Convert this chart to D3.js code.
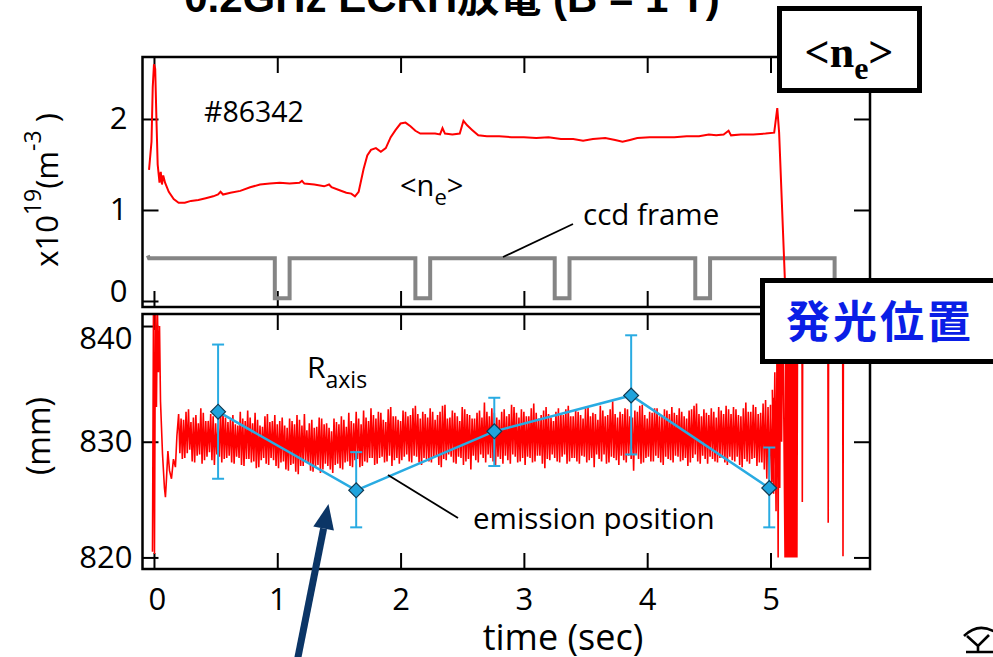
<!DOCTYPE html>
<html>
<head>
<meta charset="utf-8">
<script src="https://cdn.jsdelivr.net/npm/d3@7"></script>
<style>
  body { margin: 0; background: #fff; }
  svg { display: block; }
</style>
</head>
<body>
<div id="chart"></div>
<script>
// ---- data ----
// line-averaged density (x10^19 m^-3)
const neT = [-0.04, -0.02, -0.01, 0.00, 0.01, 0.02, 0.03, 0.045, 0.055, 0.065, 0.075, 0.09, 0.12, 0.16, 0.20, 0.25,
  0.30, 0.36, 0.42, 0.48, 0.52, 0.54, 0.56, 0.62, 0.70, 0.78, 0.86, 0.94, 1.02, 1.10, 1.18, 1.20, 1.22, 1.30, 1.38,
  1.42, 1.44, 1.50, 1.56, 1.60, 1.63, 1.66, 1.70, 1.73, 1.76, 1.80, 1.84, 1.88, 1.92, 1.96, 2.00, 2.04, 2.08, 2.12,
  2.16, 2.22, 2.28, 2.32, 2.34, 2.36, 2.42, 2.48, 2.51, 2.54, 2.58, 2.63, 2.70, 2.80, 2.90, 3.00, 3.10, 3.20, 3.30,
  3.40, 3.48, 3.56, 3.66, 3.74, 3.80, 3.86, 3.92, 4.02, 4.12, 4.22, 4.32, 4.42, 4.50, 4.56, 4.62, 4.66, 4.68, 4.76,
  4.86, 4.96, 5.03, 5.055, 5.07, 5.135];
const neV = [1.44, 1.75, 2.35, 2.60, 2.55, 2.00, 1.50, 1.30, 1.42, 1.28, 1.38, 1.30, 1.20, 1.12, 1.08, 1.08,
  1.10, 1.11, 1.13, 1.15, 1.17, 1.20, 1.17, 1.19, 1.21, 1.25, 1.28, 1.29, 1.30, 1.29, 1.30, 1.32, 1.29, 1.28, 1.26,
  1.28, 1.25, 1.22, 1.19, 1.18, 1.15, 1.20, 1.45, 1.60, 1.66, 1.68, 1.64, 1.68, 1.80, 1.88, 1.95, 1.96, 1.92, 1.87,
  1.84, 1.84, 1.84, 1.83, 1.90, 1.84, 1.83, 1.84, 1.98, 1.93, 1.88, 1.82, 1.81, 1.81, 1.80, 1.80, 1.79, 1.80, 1.78,
  1.78, 1.76, 1.78, 1.79, 1.77, 1.75, 1.77, 1.79, 1.80, 1.80, 1.80, 1.81, 1.81, 1.83, 1.82, 1.83, 1.87, 1.82, 1.83,
  1.83, 1.84, 1.85, 2.12, 1.85, -0.40];

// ccd frame gate signal
const ccdT = [-0.05, -0.04, 0.98, 0.98, 1.10, 1.10, 2.12, 2.12, 2.24, 2.24, 3.25, 3.25, 3.37, 3.37, 4.39, 4.39, 4.51, 4.51, 5.52, 5.52];
const ccdV = [0.50, 0.47, 0.47, 0.03, 0.03, 0.47, 0.47, 0.03, 0.03, 0.47, 0.47, 0.03, 0.03, 0.47, 0.47, 0.03, 0.03, 0.47, 0.47, 0.03];

// R_axis (mm): start-up transient
const rStartT = [-0.012, -0.004, 0.004, 0.012, 0.020, 0.028, 0.036, 0.045, 0.053, 0.069, 0.085, 0.093, 0.100, 0.113, 0.126, 0.142, 0.158, 0.174, 0.186];
const rStartV = [820.5, 841.5, 820.3, 841.5, 833.0, 841.5, 836.0, 840.0, 833.5, 829.0, 826.0, 825.2, 826.5, 829.2, 827.5, 826.8, 828.5, 827.8, 830.5];
// R_axis noisy flat-top, read every 0.04 s from 0.20 s to 5.00 s:
// upper / lower excursions at each sample, and a second upper / lower pair half a step later
const rBandStart = 0.20, rBandStep = 0.04;
const rHi = [832.4, 831.9, 832.8, 832.1, 831.6, 832.5, 831.8, 832.2, 831.5, 832.6,
  831.7, 832.3, 831.4, 832.0, 832.7, 831.6, 831.9, 831.3, 832.4, 831.8,
  831.5, 832.1, 831.2, 831.8, 832.3, 831.4, 831.0, 831.9, 831.3, 832.0,
  831.6, 830.9, 831.7, 832.2, 831.3, 831.8, 832.6, 831.5, 832.1, 832.9,
  832.0, 832.5, 831.7, 833.0, 832.2, 831.8, 832.6, 832.3, 833.1, 832.0,
  832.4, 832.9, 831.9, 832.6, 833.2, 832.1, 832.5, 831.8, 832.8, 832.3,
  832.0, 832.7, 833.4, 832.2, 832.5, 831.9, 832.8, 832.4, 833.0, 832.1,
  832.6, 832.2, 833.3, 832.0, 832.7, 832.4, 831.8, 832.9, 832.3, 833.1,
  832.2, 832.6, 832.0, 833.0, 832.5, 831.9, 832.7, 832.3, 833.5, 832.1,
  832.4, 832.8, 832.1, 832.6, 833.2, 832.0, 832.5, 832.9, 832.2, 832.7,
  833.0, 832.3, 832.6, 832.0, 832.8, 833.3, 832.2, 832.5, 832.9, 832.1,
  832.7, 833.1, 832.4, 832.8, 832.2, 833.4, 832.6, 833.0, 832.5, 833.6,
  833.2];
const rLo = [829.0, 828.6, 829.3, 828.2, 828.9, 828.4, 829.1, 828.0, 828.7, 828.5,
  828.8, 828.1, 828.6, 827.9, 828.5, 828.3, 827.8, 828.6, 828.0, 828.4,
  827.7, 828.3, 827.5, 828.1, 827.2, 827.9, 828.2, 827.4, 828.0, 827.6,
  827.9, 827.3, 828.1, 827.6, 828.3, 827.8, 828.5, 827.9, 828.2, 828.6,
  828.1, 828.7, 828.3, 827.9, 828.6, 828.4, 828.9, 828.2, 828.7, 828.0,
  828.5, 828.2, 828.8, 827.8, 828.4, 828.7, 828.1, 828.6, 828.3, 827.6,
  828.4, 828.9, 828.2, 828.6, 827.9, 828.5, 828.8, 828.1, 828.7, 828.3,
  828.0, 828.6, 828.3, 828.8, 827.7, 828.4, 828.6, 828.2, 828.9, 828.3,
  828.6, 828.1, 828.7, 828.4, 827.8, 828.5, 828.9, 828.2, 828.6, 828.0,
  828.4, 828.8, 827.5, 828.5, 828.2, 828.7, 828.3, 828.6, 828.0, 828.5,
  828.2, 828.7, 828.4, 827.9, 828.6, 828.3, 828.8, 828.1, 828.5, 828.2,
  828.6, 828.0, 828.4, 828.7, 827.8, 828.3, 828.5, 827.9, 828.2, 826.8,
  826.5];
const rHi2 = [832.0, 832.6, 831.7, 832.3, 832.9, 831.8, 832.4, 831.6, 832.7, 832.1,
  831.9, 831.5, 832.6, 831.8, 832.1, 832.5, 831.4, 832.2, 831.7, 832.3,
  831.8, 831.4, 832.0, 831.5, 831.9, 832.4, 831.6, 831.2, 832.1, 831.5,
  831.2, 832.0, 831.5, 831.9, 832.5, 831.6, 832.0, 832.7, 831.8, 832.3,
  832.6, 831.9, 832.8, 832.2, 831.9, 832.7, 832.2, 832.9, 832.4, 832.6,
  832.1, 832.6, 832.3, 833.1, 832.0, 832.7, 832.2, 833.0, 832.4, 832.0,
  832.5, 832.1, 832.6, 832.9, 832.1, 832.6, 832.2, 833.2, 832.5, 832.8,
  832.2, 832.9, 832.5, 832.3, 833.0, 832.1, 832.6, 832.4, 832.8, 832.2,
  832.7, 832.3, 832.9, 832.2, 832.4, 833.1, 832.2, 832.8, 832.4, 832.6,
  832.9, 832.2, 832.7, 833.1, 832.3, 832.6, 832.9, 832.2, 832.8, 832.4,
  832.5, 832.9, 832.2, 832.7, 833.1, 832.4, 832.8, 832.3, 832.6, 833.0,
  832.4, 832.8, 833.0, 832.3, 832.9, 832.6, 833.2, 832.4, 833.3, 833.0,
  833.8];
const rLo2 = [828.5, 829.0, 828.3, 828.8, 828.1, 828.7, 828.4, 828.9, 828.2, 828.6,
  828.2, 828.7, 828.0, 828.5, 828.2, 827.7, 828.4, 828.1, 828.6, 827.9,
  828.2, 827.6, 828.0, 827.4, 827.9, 828.3, 827.5, 827.8, 827.3, 828.1,
  827.6, 828.0, 827.7, 828.2, 827.9, 828.4, 827.8, 828.3, 828.6, 828.0,
  828.6, 828.2, 828.8, 828.4, 828.1, 828.7, 828.3, 828.8, 828.2, 828.6,
  828.3, 828.7, 828.0, 828.5, 828.9, 828.2, 828.7, 828.0, 828.5, 828.8,
  828.2, 828.6, 828.9, 828.3, 828.7, 828.1, 828.4, 828.9, 828.2, 828.6,
  828.7, 828.2, 828.8, 828.1, 828.5, 828.9, 828.3, 828.7, 828.1, 828.6,
  828.3, 828.8, 828.2, 828.6, 828.9, 828.3, 828.1, 828.7, 828.4, 828.8,
  828.2, 828.5, 828.9, 828.1, 828.6, 828.3, 828.8, 828.2, 828.7, 828.4,
  828.8, 828.3, 828.6, 828.2, 828.9, 828.1, 828.5, 828.7, 828.3, 828.6,
  828.2, 828.7, 828.3, 828.0, 828.5, 828.1, 828.6, 828.2, 827.6, 826.5,
  825.8];
// R_axis after the discharge ends (lost equilibrium)
const rEndT = [5.015, 5.025, 5.035, 5.045, 5.055, 5.062, 5.068, 5.075, 5.082, 5.09, 5.10,
  5.118, 5.124, 5.130, 5.136, 5.142, 5.148, 5.154, 5.160, 5.166, 5.172, 5.178, 5.184, 5.190, 5.196, 5.202, 5.208, 5.214, 5.220,
  5.255, 5.258, 5.262, 5.465, 5.468, 5.472, 5.585, 5.588, 5.592, 5.65];
const rEndV = [834.5, 825.5, 836.0, 824.0, 845, 820.0, 845, 826.0, 845, 830.0, 845,
  820.0, 845, 820.0, 845, 820.0, 845, 820.0, 845, 820.0, 845, 820.0, 845, 820.0, 845, 820.0, 845, 820.0, 845,
  845, 824.8, 845, 845, 823.0, 845, 845, 820.1, 845, 845];

// emission position from the ccd frames
const emT = [0.52, 1.64, 2.76, 3.87, 4.99];
const emV = [832.6, 825.8, 830.9, 834.0, 826.0];
const emLo = [826.8, 822.6, 827.9, 828.9, 822.6];
const emHi = [838.4, 829.1, 833.8, 839.2, 829.5];

const timeTicks = [0, 1, 2, 3, 4, 5];
const neTicks = [0, 1, 2];
const rTicks = [820, 830, 840];

// ---- drawing ----
const W = 993, H = 657;
const svg = d3.select("#chart").append("svg")
  .attr("width", W).attr("height", H)
  .style("font-family", "'Open Sans', 'Noto Sans', sans-serif");

const x = d3.scaleLinear().domain([-0.093, 5.807]).range([142.5, 870]);
const yTop = d3.scaleLinear().domain([-0.066, 2.681]).range([307, 57]);
const yBot = d3.scaleLinear().domain([819.0, 841.04]).range([569, 314]);

const tick = 16;

// clip areas
const defs = svg.append("defs");
defs.append("clipPath").attr("id", "clipTop").append("rect")
  .attr("x", 142.5).attr("y", 57).attr("width", 870 - 142.5).attr("height", 307 - 57);
defs.append("clipPath").attr("id", "clipBot").append("rect")
  .attr("x", 142.5).attr("y", 314).attr("width", 870 - 142.5).attr("height", 569 - 314);

// title (cut off at the top edge of the slide)
const title = svg.append("text")
  .attr("x", 452).attr("y", 12)
  .attr("text-anchor", "middle")
  .style("font-family", "'Liberation Sans', 'Noto Sans CJK JP', sans-serif")
  .style("font-weight", "bold").style("font-size", "42px");
title.append("tspan").text("0.2GHz ECRH");
title.append("tspan").style("font-family", "'Noto Sans CJK JP'").text("放電");
title.append("tspan").text(" (B = 1 T)");

function styleAxis(g, labels) {
  g.select(".domain").remove();
  g.selectAll(".tick line").attr("stroke", "#000").attr("stroke-width", 2);
  if (!labels) g.selectAll(".tick text").remove();
  else g.selectAll(".tick text").attr("fill", "#000").style("font-size", "31px")
    .style("font-family", "'Open Sans', sans-serif");
}

// ---------- top panel ----------
const topG = svg.append("g");
topG.append("g").attr("transform", "translate(142.5,0)")
  .call(d3.axisLeft(yTop).tickValues(neTicks).tickSize(-tick).tickPadding(15).tickFormat(d3.format("d")))
  .call(g => styleAxis(g, true))
  .call(g => g.selectAll(".tick text").filter(d => d === 0).attr("dy", "0.32em").attr("y", -9));
topG.append("g").attr("transform", "translate(870,0)")
  .call(d3.axisRight(yTop).tickValues(neTicks).tickSize(-tick))
  .call(g => styleAxis(g, false));
topG.append("g").attr("transform", "translate(0,57)")
  .call(d3.axisTop(x).tickValues(timeTicks).tickSize(-tick))
  .call(g => styleAxis(g, false));
topG.append("g").attr("transform", "translate(0,307)")
  .call(d3.axisBottom(x).tickValues(timeTicks).tickSize(-tick))
  .call(g => styleAxis(g, false));

const topPlot = topG.append("g").attr("clip-path", "url(#clipTop)");
topPlot.append("path")
  .datum(ccdT.map((t, i) => [t, ccdV[i]]))
  .attr("fill", "none").attr("stroke", "#858585").attr("stroke-width", 4)
  .attr("stroke-linejoin", "miter")
  .attr("d", d3.line().x(d => x(d[0])).y(d => yTop(d[1])));
topPlot.append("path")
  .datum(neT.map((t, i) => [t, neV[i]]))
  .attr("fill", "none").attr("stroke", "#ff0000").attr("stroke-width", 2)
  .attr("d", d3.line().x(d => x(d[0])).y(d => yTop(d[1])));

topG.append("rect").attr("x", 142.5).attr("y", 57).attr("width", 870 - 142.5).attr("height", 250)
  .attr("fill", "none").attr("stroke", "#000").attr("stroke-width", 2.5);

topG.append("text").attr("x", 204).attr("y", 122).style("font-size", "28.5px").text("#86342");
const neLab = topG.append("text").attr("x", 400).attr("y", 196).style("font-size", "29px");
neLab.append("tspan").text("<n");
neLab.append("tspan").attr("dy", 9).style("font-size", "22px").text("e");
neLab.append("tspan").attr("dy", -9).text(">");
topG.append("text").attr("x", 583).attr("y", 225).style("font-size", "29.5px").text("ccd frame");
topG.append("line").attr("x1", 573).attr("y1", 224).attr("x2", 503).attr("y2", 257)
  .attr("stroke", "#000").attr("stroke-width", 1.8);

const yLabTop = topG.append("text")
  .attr("transform", "translate(58,190) rotate(-90)")
  .attr("text-anchor", "middle").style("font-size", "31px");
yLabTop.append("tspan").text("x10");
yLabTop.append("tspan").attr("dy", -17).style("font-size", "23px").text("19");
yLabTop.append("tspan").attr("dy", 17).text("(m");
yLabTop.append("tspan").attr("dy", -17).style("font-size", "23px").text("-3");
yLabTop.append("tspan").attr("dy", 17).text(" )");

// ---------- bottom panel ----------
const botG = svg.append("g");
botG.append("g").attr("transform", "translate(142.5,0)")
  .call(d3.axisLeft(yBot).tickValues(rTicks).tickSize(-tick).tickPadding(10).tickFormat(d3.format("d")))
  .call(g => styleAxis(g, true))
  .call(g => g.selectAll(".tick text").filter(d => d === 840).attr("y", 13));
botG.append("g").attr("transform", "translate(870,0)")
  .call(d3.axisRight(yBot).tickValues(rTicks).tickSize(-tick))
  .call(g => styleAxis(g, false));
botG.append("g").attr("transform", "translate(0,314)")
  .call(d3.axisTop(x).tickValues(timeTicks).tickSize(-tick))
  .call(g => styleAxis(g, false));
botG.append("g").attr("transform", "translate(0,569)")
  .call(d3.axisBottom(x).tickValues(timeTicks).tickSize(-tick).tickPadding(19).tickFormat(d3.format("d")))
  .call(g => styleAxis(g, true))
  .call(g => g.selectAll(".tick text").filter(d => d === 0).attr("x", 3));

// R_axis trace: transient, noisy band, and the end
const rTrace = rStartT.map((t, i) => [t, rStartV[i]]);
rHi.forEach((v, i) => {
  const t = rBandStart + i * rBandStep;
  rTrace.push([t, v]);
  rTrace.push([t + rBandStep / 4, rLo[i]]);
  rTrace.push([t + rBandStep / 2, rHi2[i]]);
  rTrace.push([t + 3 * rBandStep / 4, rLo2[i]]);
});
rEndT.forEach((t, i) => rTrace.push([t, rEndV[i]]));

const botPlot = botG.append("g").attr("clip-path", "url(#clipBot)");
botPlot.append("path")
  .datum(rTrace)
  .attr("fill", "none").attr("stroke", "#ff0000").attr("stroke-width", 1.6)
  .attr("d", d3.line().x(d => x(d[0])).y(d => yBot(Math.min(d[1], 842))));

// emission position with error bars
const emColor = "#29abe2";
const em = emT.map((t, i) => ({ t, v: emV[i], lo: emLo[i], hi: emHi[i] }));
const emG = botG.append("g");
emG.selectAll(".eb").data(em).join("line")
  .attr("x1", d => x(d.t)).attr("x2", d => x(d.t))
  .attr("y1", d => yBot(d.lo)).attr("y2", d => yBot(d.hi))
  .attr("stroke", emColor).attr("stroke-width", 2);
["lo", "hi"].forEach(k => {
  emG.selectAll(".cap-" + k).data(em).join("line")
    .attr("x1", d => x(d.t) - 6).attr("x2", d => x(d.t) + 6)
    .attr("y1", d => yBot(d[k])).attr("y2", d => yBot(d[k]))
    .attr("stroke", emColor).attr("stroke-width", 2);
});
emG.append("path").datum(em)
  .attr("fill", "none").attr("stroke", emColor).attr("stroke-width", 2.5)
  .attr("d", d3.line().x(d => x(d.t)).y(d => yBot(d.v)));
emG.selectAll(".mk").data(em).join("path")
  .attr("transform", d => `translate(${x(d.t)},${yBot(d.v)}) rotate(45)`)
  .attr("d", d3.symbol(d3.symbolSquare, 110)())
  .attr("fill", "#1fa3dc").attr("stroke", "#123a52").attr("stroke-width", 1.2);

botG.append("rect").attr("x", 142.5).attr("y", 314).attr("width", 870 - 142.5).attr("height", 569 - 314)
  .attr("fill", "none").attr("stroke", "#000").attr("stroke-width", 2.5);

const rLab = botG.append("text").attr("x", 307).attr("y", 378).style("font-size", "30px");
rLab.append("tspan").text("R");
rLab.append("tspan").attr("dy", 10).style("font-size", "23px").text("axis");
botG.append("text").attr("x", 473).attr("y", 529).style("font-size", "29.5px").text("emission position");
botG.append("line").attr("x1", 388).attr("y1", 475).attr("x2", 458).attr("y2", 518)
  .attr("stroke", "#000").attr("stroke-width", 1.8);

botG.append("text").attr("transform", "translate(50,436) rotate(-90)")
  .attr("text-anchor", "middle").style("font-size", "32px").text("(mm)");
botG.append("text").attr("x", 563).attr("y", 650)
  .attr("text-anchor", "middle").style("font-size", "36px").text("time (sec)");

// ---------- callout boxes ----------
svg.append("rect").attr("x", 779.5).attr("y", 8.5).attr("width", 140).attr("height", 82)
  .attr("fill", "#fff").attr("stroke", "#000").attr("stroke-width", 5);
const neBox = svg.append("text").attr("x", 849).attr("y", 67)
  .attr("text-anchor", "middle")
  .style("font-family", "'Liberation Serif', 'DejaVu Serif', serif")
  .style("font-weight", "bold").style("font-size", "44px");
neBox.append("tspan").text("<n");
neBox.append("tspan").attr("dy", 12).style("font-size", "32px").text("e");
neBox.append("tspan").attr("dy", -12).text(">");

svg.append("rect").attr("x", 762.5).attr("y", 280.5).attr("width", 260).attr("height", 81)
  .attr("fill", "#fff").attr("stroke", "#000").attr("stroke-width", 5);
svg.append("text").attr("x", 880).attr("y", 338)
  .attr("text-anchor", "middle")
  .style("font-family", "'Noto Sans CJK JP', sans-serif")
  .style("font-weight", "bold").style("font-size", "44px")
  .style("letter-spacing", "3px")
  .attr("fill", "#0a1ee6").text("発光位置");

// navy pointer arrow
const arrow = { x1: 297, y1: 662, x2: 328.5, y2: 504 };
const ang = Math.atan2(arrow.y2 - arrow.y1, arrow.x2 - arrow.x1);
const headLen = 25, headW = 10.5;
const bx = arrow.x2 - headLen * Math.cos(ang), by = arrow.y2 - headLen * Math.sin(ang);
svg.append("line").attr("x1", arrow.x1).attr("y1", arrow.y1).attr("x2", bx).attr("y2", by)
  .attr("stroke", "#0b3566").attr("stroke-width", 7);
svg.append("path")
  .attr("d", `M${arrow.x2},${arrow.y2} L${bx + headW * Math.sin(ang)},${by - headW * Math.cos(ang)} L${bx - headW * Math.sin(ang)},${by + headW * Math.cos(ang)} Z`)
  .attr("fill", "#0b3566");

// partly visible mark at the bottom-right corner of the slide
svg.append("path")
  .attr("d", "M964,636 Q978,622 995,632 M967,636 L978,646 L989,635 M978,646 L978,652 M966,652 L995,652")
  .attr("fill", "none").attr("stroke", "#000").attr("stroke-width", 2.6);
</script>
</body>
</html>
